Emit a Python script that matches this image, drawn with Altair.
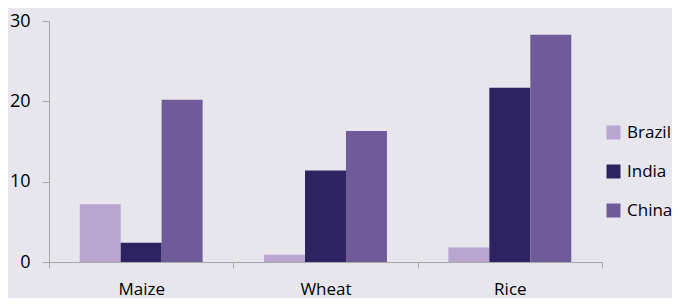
import altair as alt
import pandas as pd

crops = ["Maize", "Wheat", "Rice"]
countries = ["Brazil", "India", "China"]
brazil = [7.2, 0.9, 1.8]
india = [2.4, 11.4, 21.7]
china = [20.2, 16.3, 28.3]
colors = ["#b8a6d1", "#2d2360", "#6f5b9a"]

rows = []
for i, c in enumerate(crops):
    for country, vals in zip(countries, [brazil, india, china]):
        rows.append({"crop": c, "country": country, "value": vals[i]})
df = pd.DataFrame(rows)

FONT = "Open Sans"
chart = alt.Chart(df).mark_bar().encode(
    x=alt.X("crop:N", sort=crops, title=None,
            scale=alt.Scale(paddingInner=0, paddingOuter=0),
            axis=alt.Axis(labelAngle=0, tickBand="extent", tickSize=6, labelPadding=13,
                          labelFontSize=17, labelFont=FONT, labelColor="#000000",
                          domainColor="#a6a6a6", tickColor="#a6a6a6", grid=False)),
    xOffset=alt.XOffset("country:N", sort=countries,
                        scale=alt.Scale(paddingInner=0, paddingOuter=0.75)),
    y=alt.Y("value:Q", title=None, scale=alt.Scale(domain=[0, 30], nice=False),
            axis=alt.Axis(values=[0, 10, 20, 30], tickSize=7, labelPadding=12, grid=False,
                          labelFontSize=18, labelFont=FONT, labelColor="#000000",
                          domainColor="#a6a6a6", tickColor="#a6a6a6")),
    color=alt.Color("country:N", sort=countries,
                    scale=alt.Scale(domain=countries, range=colors),
                    legend=alt.Legend(title=None, orient="none", legendX=556, legendY=103,
                                      symbolType="square", symbolSize=196, symbolStrokeWidth=0,
                                      labelFontSize=17, labelFont=FONT, labelColor="#000000",
                                      labelOffset=5, rowPadding=21)),
).properties(
    width=553, height=241,
    autosize=alt.AutoSizeParams(type="none"),
    padding={"left": 41, "top": 13, "right": 70, "bottom": 36},
    background="#e8e6ed",
).configure_view(stroke=None)

chart.save("out.html", embed_options={"renderer": "svg", "actions": False})
